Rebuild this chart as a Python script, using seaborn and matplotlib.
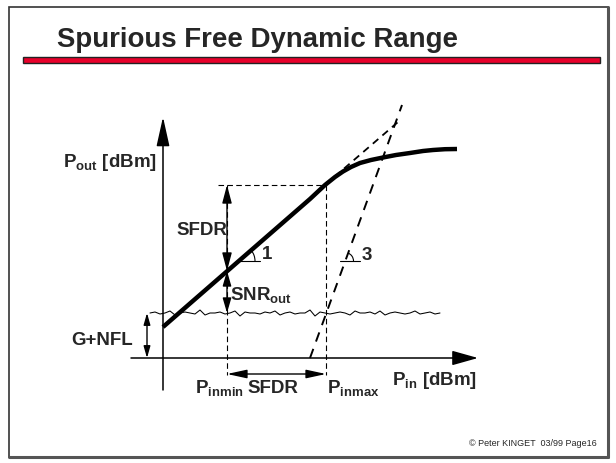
import numpy as np
import seaborn as sns
import matplotlib.pyplot as plt
from matplotlib.patches import FancyArrowPatch, Rectangle, Arc

# diagram units: 1 unit = 1 px, origin at the axes crossing
pin_curve = [0, 147, 162, 172, 180, 188, 197, 208, 220, 233, 247, 260, 270, 282, 294]
pout_curve = [31, 159, 173, 181, 186.5, 191, 195, 198, 200.5, 203, 205, 207, 208, 208.8, 209]

pin_ext1 = [162, 235]       # slope-1 extrapolation
pout_ext1 = [173, 236]
pin_im3 = [147, 239]        # slope-3 IM3 line
pout_im3 = [0, 253]

noise_floor = 45
noise_x = np.arange(-13, 282, 5)
noise_dy = [0, 1, -1, 0, 2, -2, 0, 1, 0, -1, 3, -2, 0, 0, 1, -1, 0, 2, -3, 1,
            0, 0, -1, 1, 0, 2, -2, 0, 1, -1, 0, 0, 3, -3, 1, 0, -1, 0, 1, 0,
            -2, 2, 0, 0, 1, -1, 2, -2, 0, 1, 0, -1, 0, 2, -1, 0, 1, -1, 0]

pin_min = 64
pin_max = 163
pout_top = 173
pout_at_min = 87

sns.set_theme(style="white")
plt.rcParams['font.family'] = ['Liberation Sans', 'DejaVu Sans']
plt.rcParams['mathtext.fontset'] = 'custom'
plt.rcParams['mathtext.rm'] = 'Liberation Sans'
plt.rcParams['mathtext.bf'] = 'Liberation Sans:bold'
plt.rcParams['mathtext.it'] = 'Liberation Sans:italic'

fig = plt.figure(figsize=(6.16, 4.63), dpi=100)
ax = fig.add_axes([0, 0, 1, 1])
ax.set_xlim(-163, 453)
ax.set_ylim(-105, 358)
ax.axis('off')

# slide frame and title
ax.add_patch(Rectangle((-154, -99), 599, 450, fill=False, lw=1.2, edgecolor='#333333'))
ax.plot([445, 445], [-99, 351], color='#555555', lw=2.2)
ax.plot([-154, 445], [-99, -99], color='#555555', lw=2.2)
ax.add_patch(Rectangle((-140, 295.5), 577, 6, facecolor='#e8002a', edgecolor='#222222', lw=1))
ax.text(-106, 311, 'Spurious Free Dynamic Range', fontsize=19.9, fontweight='bold',
        va='baseline', ha='left')
ax.text(434, -86, '\u00a9 Peter KINGET  03/99 Page16', fontsize=6.5, ha='right', va='center')


def arrow(p0, p1, style, hl, hw, lw=1.0):
    ax.add_patch(FancyArrowPatch(p0, p1, arrowstyle=f'{style},head_length={hl},head_width={hw}',
                                 mutation_scale=1, lw=lw, color='black',
                                 shrinkA=0, shrinkB=0))


# axes
arrow((0, -32), (0, 241), '-|>', 18, 4, 1.1)
arrow((-32, 0), (315, 0), '-|>', 16, 4.5, 1.1)

# dashed helper lines
dash = dict(color='black', lw=0.8, linestyle=(0, (5, 3)))
ax.plot([55, pin_max], [pout_top, pout_top], **dash)
ax.plot([pin_min, pin_min], [pout_top, -17], **dash)
ax.plot([pin_max, pin_max], [pout_top, -17], **dash)

sns.lineplot(x=pin_ext1, y=pout_ext1, ax=ax, color='black', lw=1.3,
             linestyle=(0, (4, 3)))
sns.lineplot(x=pin_im3, y=pout_im3, ax=ax, color='black', lw=1.4,
             linestyle=(0, (5, 4)))

# noise floor
sns.lineplot(x=noise_x, y=noise_floor + np.array(noise_dy), ax=ax, color='black',
             lw=0.75, sort=False)

# transfer curve
sns.lineplot(x=pin_curve, y=pout_curve, ax=ax, color='black', lw=3.2, sort=False,
             solid_capstyle='butt')

# dimension arrows
arrow((pin_min, pout_top), (pin_min, pout_at_min), '<|-|>', 11, 2.9)
arrow((pin_min, pout_at_min), (pin_min, noise_floor), '<|-|>', 9, 2.6)
arrow((-16, 0), (-16, noise_floor), '<|-|>', 7, 2.0)
arrow((pin_min, -16), (pin_max, -16), '<|-|>', 12, 2.6)

# slope markers
ax.plot([75, 97], [97, 97], color='black', lw=0.8)
ax.add_patch(Arc((75, 97), 34, 34, theta1=0, theta2=38, lw=0.8, color='black'))
ax.plot([177, 197], [97, 97], color='black', lw=0.8)
ax.add_patch(Arc((182, 97), 17, 17, theta1=0, theta2=70, lw=0.8, color='black'))

# labels
lab = dict(fontsize=13.5, fontweight='bold', va='baseline', ha='left')
ax.text(-100, 191, r'$\mathbf{P}_{\mathbf{out}}$ [dBm]', **lab)
ax.text(13, 123, 'SFDR', **lab)
ax.text(99, 99, '1', **lab)
ax.text(199, 98, '3', **lab)
ax.text(67, 58, r'$\mathbf{SNR}_{\mathbf{out}}$', **lab)
ax.text(-92, 13, 'G+NFL', **lab)
ax.text(32, -35, r'$\mathbf{P}_{\mathbf{inmin}}$', **lab)
ax.text(84, -35, 'SFDR', **lab)
ax.text(164, -35, r'$\mathbf{P}_{\mathbf{inmax}}$', **lab)
ax.text(229, -27, r'$\mathbf{P}_{\mathbf{in}}$ [dBm]', **lab)

fig.savefig('out.png', dpi=100)
